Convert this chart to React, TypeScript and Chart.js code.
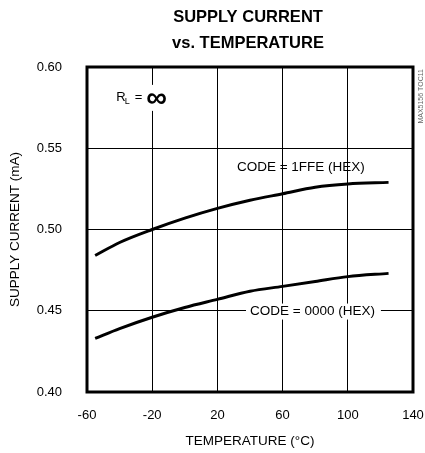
import React, { useEffect, useRef } from "react";
import { Chart, registerables } from "chart.js";

Chart.register(...registerables);

const temperatures = [-55, -40, -20, 0, 20, 40, 60, 80, 100, 125];
const current1FFE = [0.484, 0.492, 0.5, 0.507, 0.513, 0.518, 0.522, 0.526, 0.528, 0.529];
const current0000 = [0.433, 0.439, 0.446, 0.452, 0.457, 0.462, 0.465, 0.468, 0.471, 0.473];
const xTicks = [-60, -20, 20, 60, 100, 140];
const yTicks = [0.4, 0.45, 0.5, 0.55, 0.6];
const titleLines = ["SUPPLY CURRENT", "vs. TEMPERATURE"];
const xTitle = "TEMPERATURE (°C)";
const yTitle = "SUPPLY CURRENT (mA)";
const label1FFE = "CODE = 1FFE (HEX)";
const label0000 = "CODE = 0000 (HEX)";
const sideNote = "MAX5156 TOC11";

const FONT = "'Liberation Sans', Arial, Helvetica, sans-serif";

const annotationPlugin = {
  id: "annots",
  afterDatasetsDraw(chart: any) {
    const { ctx, chartArea, scales } = chart;
    const xs = scales.x;
    const ys = scales.y;
    ctx.save();
    // plot frame
    ctx.strokeStyle = "#000";
    ctx.lineWidth = 3;
    ctx.strokeRect(chartArea.left, chartArea.top, chartArea.right - chartArea.left, chartArea.bottom - chartArea.top);

    // title
    const cx = (chartArea.left + chartArea.right) / 2 - 2;
    ctx.fillStyle = "#000";
    ctx.textAlign = "center";
    ctx.textBaseline = "middle";
    ctx.font = `bold 16.5px ${FONT}`;
    ctx.fillText(titleLines[0], cx, 17);
    ctx.fillText(titleLines[1], cx, 43);

    ctx.textBaseline = "middle";
    ctx.fillStyle = "#000";
    ctx.textAlign = "left";

    // CODE = 1FFE label
    ctx.font = `13.5px ${FONT}`;
    ctx.fillText(label1FFE, xs.getPixelForValue(32), ys.getPixelForValue(0.538));

    // CODE = 0000 label with white background
    const x0 = xs.getPixelForValue(40);
    const y0 = ys.getPixelForValue(0.4495);
    const w0 = ctx.measureText(label0000).width;
    ctx.fillStyle = "#fff";
    ctx.fillRect(x0 - 4, y0 - 8, w0 + 10, 16);
    ctx.fillStyle = "#000";
    ctx.fillText(label0000, x0, y0);

    // R_L = infinity
    const rx = xs.getPixelForValue(-42);
    const ry = ys.getPixelForValue(0.581);
    ctx.fillStyle = "#fff";
    ctx.fillRect(rx - 2, ry - 13, 58, 26);
    ctx.fillStyle = "#000";
    ctx.font = `13px ${FONT}`;
    ctx.fillText("R", rx, ry);
    const rw = ctx.measureText("R").width;
    ctx.font = `9px ${FONT}`;
    ctx.fillText("L", rx + rw - 1, ry + 4);
    const lw = ctx.measureText("L").width;
    ctx.font = `13px ${FONT}`;
    ctx.fillText("=", rx + rw + lw + 4, ry);
    const ew = ctx.measureText("=").width;
    ctx.font = `bold 29px ${FONT}`;
    ctx.fillText("\u221E", rx + rw + lw + ew + 8, ry + 1);

    // side note
    ctx.save();
    ctx.translate(chart.width - 4, chartArea.top + 2);
    ctx.rotate(-Math.PI / 2);
    ctx.font = `7px ${FONT}`;
    ctx.fillStyle = "#666";
    ctx.textAlign = "right";
    ctx.fillText(sideNote, 0, 0);
    ctx.restore();

    ctx.restore();
  },
};

export default function App() {
  const ref = useRef<HTMLCanvasElement | null>(null);
  useEffect(() => {
    document.body.style.margin = "0";
    const canvas = ref.current!;
    const chart = new Chart(canvas, {
      type: "line",
      data: {
        datasets: [
          {
            label: label1FFE,
            data: temperatures.map((t, i) => ({ x: t, y: current1FFE[i] })),
            borderColor: "#000",
            borderWidth: 3,
            pointRadius: 0,
            cubicInterpolationMode: "monotone",
          },
          {
            label: label0000,
            data: temperatures.map((t, i) => ({ x: t, y: current0000[i] })),
            borderColor: "#000",
            borderWidth: 3,
            pointRadius: 0,
            cubicInterpolationMode: "monotone",
          },
        ],
      },
      options: {
        animation: false,
        responsive: false,
        layout: { padding: { left: 0, right: 12, top: 67, bottom: 0 } },
        plugins: {
          legend: { display: false },
          tooltip: { enabled: false },
          title: { display: false },
        },
        scales: {
          x: {
            type: "linear",
            min: -60,
            max: 140,
            afterBuildTicks: (s: any) => {
              s.ticks = xTicks.map((v) => ({ value: v }));
            },
            afterFit: (s: any) => {
              s.height = 61;
              s.paddingLeft = 0;
              s.paddingRight = 0;
            },
            grid: { color: "#000", lineWidth: 1, drawTicks: false },
            border: { display: false },
            ticks: {
              color: "#000",
              font: { family: FONT, size: 13 },
              padding: 16,
              maxRotation: 0,
              callback: (v: any) => String(v),
            },
            title: {
              display: true,
              text: xTitle,
              color: "#000",
              font: { family: FONT, size: 13.5 },
              padding: { top: 4, bottom: 4 },
            },
          },
          y: {
            type: "linear",
            min: 0.4,
            max: 0.6,
            afterBuildTicks: (s: any) => {
              s.ticks = yTicks.map((v) => ({ value: v }));
            },
            afterFit: (s: any) => {
              s.width = 87;
              s.paddingTop = 0;
              s.paddingBottom = 0;
            },
            grid: { color: "#000", lineWidth: 1, drawTicks: false },
            border: { display: false },
            ticks: {
              color: "#000",
              font: { family: FONT, size: 13 },
              padding: 25,
              callback: (v: any) => Number(v).toFixed(2),
            },
            title: {
              display: true,
              text: yTitle,
              color: "#000",
              font: { family: FONT, size: 13.5 },
              padding: { top: 7, bottom: 4 },
            },
          },
        },
      },
      plugins: [annotationPlugin],
    } as any);
    return () => chart.destroy();
  }, []);
  return (
    <div style={{ width: 425, height: 453 }}>
      <canvas ref={ref} width={425} height={453} style={{ display: "block" }} />
    </div>
  );
}
